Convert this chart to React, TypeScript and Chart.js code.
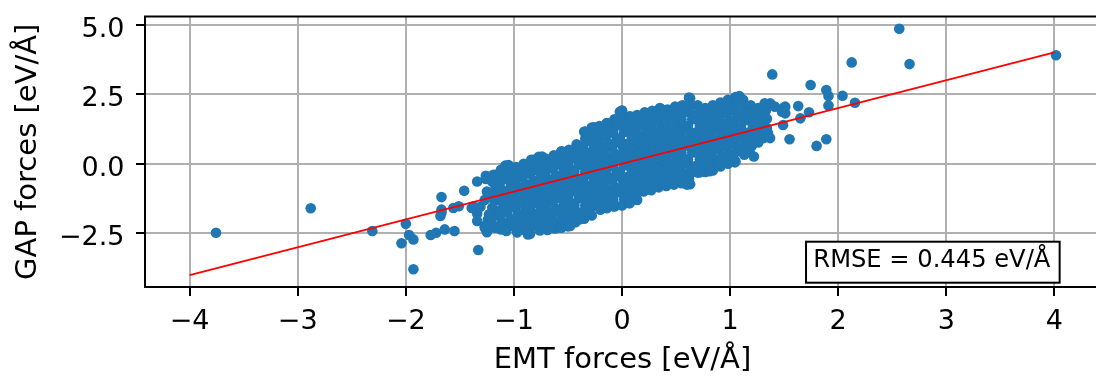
import React, { useEffect, useRef } from "react";
import { Chart, registerables } from "chart.js";

Chart.register(...registerables);

const xTickValues = [-4, -3, -2, -1, 0, 1, 2, 3, 4];
const yTickValues = [-2.5, 0, 2.5, 5];
const fitLineX = [-4, 4];
const fitLineY = [-4, 4];
const rmseLabel = "RMSE = 0.445 eV/Å";
const xTitle = "EMT forces [eV/Å]";
const yTitle = "GAP forces [eV/Å]";

// dense central cloud (EMT, GAP)
const cloudPoints: [number, number][] = [
  [-1.26, -0.55], [-1.25, -1.0], [-1.27, -1.3], [-1.24, -2.0],
  [-1.19, -0.4], [-1.2, -0.65], [-1.17, -0.88], [-1.21, -1.1], [-1.18, -1.35], [-1.2, -1.58], [-1.17, -1.82], [-1.21, -2.05], [-1.18, -2.3],
  [-1.12, -0.22], [-1.1, -0.45], [-1.13, -0.7], [-1.11, -0.95], [-1.14, -1.18], [-1.1, -1.42], [-1.12, -1.66], [-1.13, -1.9], [-1.1, -2.12], [-1.12, -2.36],
  [-1.05, -0.05], [-1.04, -0.3], [-1.06, -0.55], [-1.03, -0.8], [-1.07, -1.02], [-1.05, -1.28], [-1.04, -1.5], [-1.06, -1.75], [-1.03, -1.98], [-1.05, -2.2], [-1.07, -2.42],
  [-0.98, -0.12], [-0.97, -0.38], [-0.99, -0.6], [-0.96, -0.85], [-1.0, -1.08], [-0.97, -1.32], [-0.99, -1.56], [-0.96, -1.8], [-0.98, -2.02], [-1.0, -2.25], [-0.97, -2.46],
  [-0.91, 0.0], [-0.9, -0.25], [-0.92, -0.5], [-0.89, -0.74], [-0.93, -0.98], [-0.9, -1.2], [-0.92, -1.45], [-0.89, -1.68], [-0.91, -1.92], [-0.93, -2.15], [-0.9, -2.38],
  [-0.84, 0.14], [-0.83, -0.12], [-0.85, -0.36], [-0.82, -0.6], [-0.86, -0.85], [-0.84, -1.08], [-0.83, -1.32], [-0.85, -1.55], [-0.82, -1.8], [-0.86, -2.03], [-0.84, -2.26], [-0.85, -2.52],
  [-0.77, 0.25], [-0.76, 0.0], [-0.78, -0.24], [-0.75, -0.48], [-0.79, -0.72], [-0.77, -0.96], [-0.76, -1.2], [-0.78, -1.44], [-0.75, -1.67], [-0.79, -1.9], [-0.77, -2.14], [-0.76, -2.4],
  [-0.7, 0.18], [-0.69, -0.06], [-0.71, -0.3], [-0.68, -0.55], [-0.72, -0.78], [-0.7, -1.02], [-0.69, -1.26], [-0.71, -1.5], [-0.68, -1.73], [-0.72, -1.96], [-0.7, -2.18], [-0.69, -2.38],
  [-0.63, 0.3], [-0.62, 0.06], [-0.64, -0.18], [-0.61, -0.42], [-0.65, -0.66], [-0.63, -0.9], [-0.62, -1.14], [-0.64, -1.38], [-0.61, -1.62], [-0.65, -1.86], [-0.63, -2.1], [-0.62, -2.33],
  [-0.56, 0.45], [-0.55, 0.2], [-0.57, -0.04], [-0.54, -0.28], [-0.58, -0.52], [-0.56, -0.76], [-0.55, -1.0], [-0.57, -1.24], [-0.54, -1.48], [-0.58, -1.72], [-0.56, -1.96], [-0.55, -2.18], [-0.57, -2.3],
  [-0.49, 0.5], [-0.48, 0.26], [-0.5, 0.02], [-0.47, -0.22], [-0.51, -0.46], [-0.49, -0.7], [-0.48, -0.94], [-0.5, -1.18], [-0.47, -1.42], [-0.51, -1.66], [-0.49, -1.9], [-0.48, -2.12], [-0.5, -2.25],
  [-0.42, 0.7], [-0.41, 0.45], [-0.43, 0.2], [-0.4, -0.04], [-0.44, -0.28], [-0.42, -0.52], [-0.41, -0.76], [-0.43, -1.0], [-0.4, -1.24], [-0.44, -1.48], [-0.42, -1.72], [-0.41, -1.94], [-0.43, -2.1],
  [-0.35, 1.15], [-0.34, 0.9], [-0.36, 0.66], [-0.33, 0.42], [-0.37, 0.18], [-0.35, -0.06], [-0.34, -0.3], [-0.36, -0.54], [-0.33, -0.78], [-0.37, -1.02], [-0.35, -1.26], [-0.34, -1.5], [-0.36, -1.74], [-0.35, -1.98],
  [-0.28, 1.3], [-0.27, 1.05], [-0.29, 0.8], [-0.26, 0.56], [-0.3, 0.32], [-0.28, 0.08], [-0.27, -0.16], [-0.29, -0.4], [-0.26, -0.64], [-0.3, -0.88], [-0.28, -1.12], [-0.27, -1.36], [-0.29, -1.6], [-0.28, -1.86],
  [-0.21, 1.35], [-0.2, 1.1], [-0.22, 0.86], [-0.19, 0.62], [-0.23, 0.38], [-0.21, 0.14], [-0.2, -0.1], [-0.22, -0.34], [-0.19, -0.58], [-0.23, -0.82], [-0.21, -1.06], [-0.2, -1.3], [-0.22, -1.52], [-0.2, -1.65],
  [-0.14, 1.45], [-0.13, 1.2], [-0.15, 0.96], [-0.12, 0.72], [-0.16, 0.48], [-0.14, 0.24], [-0.13, 0.0], [-0.15, -0.24], [-0.12, -0.48], [-0.16, -0.72], [-0.14, -0.96], [-0.13, -1.2], [-0.15, -1.42], [-0.14, -1.6],
  [-0.07, 1.6], [-0.06, 1.35], [-0.08, 1.1], [-0.05, 0.86], [-0.09, 0.62], [-0.07, 0.38], [-0.06, 0.14], [-0.08, -0.1], [-0.05, -0.34], [-0.09, -0.58], [-0.07, -0.82], [-0.06, -1.06], [-0.08, -1.3], [-0.07, -1.54],
  [0.0, 1.9], [0.01, 1.62], [-0.01, 1.38], [0.02, 1.14], [-0.02, 0.9], [0.0, 0.66], [0.01, 0.42], [-0.01, 0.18], [0.02, -0.06], [-0.02, -0.3], [0.0, -0.54], [0.01, -0.78], [-0.01, -1.02], [0.02, -1.26], [0.0, -1.5],
  [0.07, 1.7], [0.08, 1.45], [0.06, 1.2], [0.09, 0.96], [0.05, 0.72], [0.07, 0.48], [0.08, 0.24], [0.06, 0.0], [0.09, -0.24], [0.05, -0.48], [0.07, -0.72], [0.08, -0.96], [0.06, -1.2], [0.07, -1.42],
  [0.14, 1.75], [0.15, 1.5], [0.13, 1.26], [0.16, 1.02], [0.12, 0.78], [0.14, 0.54], [0.15, 0.3], [0.13, 0.06], [0.16, -0.18], [0.12, -0.42], [0.14, -0.66], [0.15, -0.9], [0.13, -1.12], [0.14, -1.3],
  [0.21, 1.85], [0.22, 1.6], [0.2, 1.36], [0.23, 1.12], [0.19, 0.88], [0.21, 0.64], [0.22, 0.4], [0.2, 0.16], [0.23, -0.08], [0.19, -0.32], [0.21, -0.56], [0.22, -0.8], [0.2, -1.0],
  [0.28, 1.9], [0.29, 1.65], [0.27, 1.4], [0.3, 1.16], [0.26, 0.92], [0.28, 0.68], [0.29, 0.44], [0.27, 0.2], [0.3, -0.04], [0.26, -0.28], [0.28, -0.52], [0.29, -0.76], [0.27, -0.95],
  [0.35, 2.0], [0.36, 1.75], [0.34, 1.5], [0.37, 1.26], [0.33, 1.02], [0.35, 0.78], [0.36, 0.54], [0.34, 0.3], [0.37, 0.06], [0.33, -0.18], [0.35, -0.42], [0.36, -0.66], [0.34, -0.85],
  [0.42, 1.95], [0.43, 1.7], [0.41, 1.46], [0.44, 1.22], [0.4, 0.98], [0.42, 0.74], [0.43, 0.5], [0.41, 0.26], [0.44, 0.02], [0.4, -0.22], [0.42, -0.46], [0.43, -0.7], [0.41, -0.8],
  [0.49, 2.05], [0.5, 1.8], [0.48, 1.56], [0.51, 1.32], [0.47, 1.08], [0.49, 0.84], [0.5, 0.6], [0.48, 0.36], [0.51, 0.12], [0.47, -0.12], [0.49, -0.36], [0.5, -0.6], [0.48, -0.75],
  [0.56, 2.1], [0.57, 1.85], [0.55, 1.6], [0.58, 1.36], [0.54, 1.12], [0.56, 0.88], [0.57, 0.64], [0.55, 0.4], [0.58, 0.16], [0.54, -0.08], [0.56, -0.32], [0.57, -0.56], [0.55, -0.7],
  [0.63, 2.35], [0.64, 2.1], [0.62, 1.85], [0.65, 1.6], [0.61, 1.36], [0.63, 1.12], [0.64, 0.88], [0.62, 0.64], [0.65, 0.4], [0.61, 0.16], [0.63, -0.08], [0.64, -0.32], [0.62, -0.56], [0.63, -0.74],
  [0.7, 2.1], [0.71, 1.85], [0.69, 1.6], [0.72, 1.36], [0.68, 1.12], [0.7, 0.88], [0.71, 0.64], [0.69, 0.4], [0.72, 0.16], [0.68, -0.08], [0.7, -0.32],
  [0.77, 2.0], [0.78, 1.76], [0.76, 1.52], [0.79, 1.28], [0.75, 1.04], [0.77, 0.8], [0.78, 0.56], [0.76, 0.32], [0.79, 0.08], [0.75, -0.16], [0.77, -0.3],
  [0.84, 2.1], [0.85, 1.85], [0.83, 1.6], [0.86, 1.36], [0.82, 1.12], [0.84, 0.88], [0.85, 0.64], [0.83, 0.4], [0.86, 0.16], [0.82, -0.08], [0.84, -0.24],
  [0.91, 2.2], [0.92, 1.95], [0.9, 1.7], [0.93, 1.46], [0.89, 1.22], [0.91, 0.98], [0.92, 0.74], [0.9, 0.5], [0.93, 0.26], [0.89, 0.02], [0.91, -0.1],
  [0.98, 2.3], [0.99, 2.05], [0.97, 1.8], [1.0, 1.56], [0.96, 1.32], [0.98, 1.08], [0.99, 0.84], [0.97, 0.6], [1.0, 0.36], [0.96, 0.12], [0.98, 0.0],
  [1.05, 2.4], [1.06, 2.15], [1.04, 1.9], [1.07, 1.66], [1.03, 1.42], [1.05, 1.18], [1.06, 0.94], [1.04, 0.7], [1.07, 0.46], [1.03, 0.22], [1.05, 0.08],
  [1.12, 2.3], [1.13, 2.05], [1.11, 1.8], [1.14, 1.56], [1.1, 1.32], [1.12, 1.08], [1.13, 0.84], [1.11, 0.6], [1.14, 0.38],
  [1.19, 2.1], [1.2, 1.85], [1.18, 1.6], [1.21, 1.36], [1.17, 1.12], [1.19, 0.88], [1.2, 0.64], [1.18, 0.42],
  [1.26, 2.0], [1.27, 1.75], [1.25, 1.5], [1.28, 1.26], [1.24, 1.02], [1.26, 0.76],
  [1.33, 1.9], [1.34, 1.62], [1.32, 1.35], [1.35, 1.1], [1.31, 0.92],
];

// scattered points around the cloud (EMT, GAP)
const outlierPoints: [number, number][] = [
  [-3.756, -2.48], [-2.88, -1.6], [-2.31, -2.42], [-2.0, -2.16], [-2.04, -2.86], [-1.97, -2.56], [-1.93, -2.72], [-1.93, -3.79],
  [-1.77, -2.56], [-1.72, -2.48], [-1.64, -2.36], [-1.55, -2.42], [-1.68, -1.88], [-1.67, -1.65], [-1.67, -1.2], [-1.67, -1.76],
  [-1.56, -1.59], [-1.51, -1.53], [-1.46, -0.97], [-1.34, -0.64], [-1.33, -3.1], [-1.375, -1.53], [-1.34, -1.79], [-1.34, -2.06],
  [-1.27, -2.24], [-1.25, -2.46], [-1.23, -1.82], [-1.15, -2.3], [-1.14, -2.24], [-1.26, -0.43], [-1.16, -0.39], [-1.08, -0.07],
  [-1.39, -1.59], [-1.31, -1.55], [-1.27, -2.3],
  [-0.97, -2.46], [-0.87, -2.54], [-0.82, 0.14], [-0.74, 0.26], [-0.56, 0.44], [-0.34, 1.16], [-0.26, 1.31], [-0.13, 1.43], [-0.02, 1.87],
  [-0.56, -2.3], [-0.48, -2.24], [-0.39, -2.0], [0.07, -1.41], [-0.08, -1.53], [-0.2, -1.59], [0.23, -0.93], [0.38, -0.75],
  [2.565, 4.85], [2.66, 3.58], [2.125, 3.64], [4.015, 3.9], [1.39, 3.21], [1.745, 2.83], [1.89, 2.65], [1.91, 2.43], [2.04, 2.44],
  [2.155, 2.19], [1.91, 2.09], [1.63, 2.07], [1.73, 1.85], [1.65, 1.63], [1.89, 0.88], [1.8, 0.64], [1.55, 0.88], [1.49, 1.39],
  [1.51, 2.05], [1.415, 2.05], [1.32, 2.11], [1.37, 0.92], [1.22, 0.26], [1.13, 0.32], [1.045, 0.05], [0.81, -0.27], [0.72, -0.31],
  [0.6, -0.75], [0.57, -0.67], [1.085, 2.43], [1.06, 2.29], [0.62, 2.38], [0.54, 2.05], [0.36, 1.97], [0.09, 1.69], [0.0, 1.91],
  [-0.14, 1.46], [1.5, 2.03], [1.51, 1.81], [1.32, 2.17], [1.37, 2.17], [1.21, 1.87], [1.23, 1.63], [1.34, 1.04], [1.28, 1.57],
  [1.34, 1.28], [1.48, 1.87],
];

const FONT = '"DejaVu Sans", "Liberation Sans", sans-serif';
const fmt = (v: number, digits: number) => {
  const s = Math.abs(v).toFixed(digits);
  return v < 0 ? "\u2212" + s : s;
};

const framePlugin = {
  id: "framePlugin",
  afterDraw(chart: any) {
    const { ctx, chartArea: a } = chart;
    ctx.save();
    ctx.strokeStyle = "#000";
    ctx.lineWidth = 2;
    ctx.beginPath();
    ctx.moveTo(a.left - 1, a.top);
    ctx.lineTo(a.right, a.top);
    ctx.stroke();

    ctx.font = `24.2px ${FONT}`;
    const w = ctx.measureText(rmseLabel).width;
    const right = a.left + 0.948 * (a.right - a.left);
    const baseline = a.bottom - 0.075 * (a.bottom - a.top);
    const pad = 7.3;
    const bx = right - w - pad;
    const by = baseline - 25;
    const bw = w + 2 * pad + 2;
    const bh = 41;
    ctx.fillStyle = "#fff";
    ctx.fillRect(bx, by, bw, bh);
    ctx.lineWidth = 2;
    ctx.strokeStyle = "#000";
    ctx.strokeRect(bx, by, bw, bh);
    ctx.fillStyle = "#000";
    ctx.textBaseline = "alphabetic";
    ctx.textAlign = "left";
    ctx.fillText(rmseLabel, right - w, baseline);
    ctx.restore();
  },
};

export default function App() {
  const ref = useRef<HTMLCanvasElement | null>(null);

  useEffect(() => {
    if (!ref.current) return;
    const scatterData = [...cloudPoints, ...outlierPoints].map(([x, y]) => ({ x, y }));
    const lineData = fitLineX.map((x, i) => ({ x, y: fitLineY[i] }));

    const chart = new Chart(ref.current, {
      type: "scatter",
      data: {
        datasets: [
          {
            data: lineData,
            showLine: true,
            borderColor: "#ff0000",
            borderWidth: 1.8,
            pointRadius: 0,
            order: 0,
          } as any,
          {
            data: scatterData,
            backgroundColor: "#1f77b4",
            borderWidth: 0,
            pointRadius: 5.3,
            order: 1,
          } as any,
        ],
      },
      options: {
        animation: false,
        responsive: false,
        devicePixelRatio: 1,
        events: [],
        layout: { padding: { top: 16.5, right: 10, bottom: 0, left: 0 } },
        plugins: {
          legend: { display: false },
          tooltip: { enabled: false },
        },
        scales: {
          x: {
            type: "linear",
            min: -4.413,
            max: 4.422,
            afterBuildTicks: (axis: any) => {
              axis.ticks = xTickValues.map((v) => ({ value: v }));
            },
            afterFit: (axis: any) => {
              axis.height = 96;
              axis.paddingLeft = 0;
              axis.paddingRight = 0;
            },
            ticks: {
              color: "#000",
              font: { family: FONT, size: 27 },
              padding: 9.5,
              maxRotation: 0,
              autoSkip: false,
              callback: (v: any) => fmt(Number(v), 0),
            },
            grid: {
              color: "#b0b0b0",
              lineWidth: 2,
              tickColor: "#000",
              tickWidth: 2,
              tickLength: 9,
            },
            border: { display: true, color: "#000", width: 2 },
            title: {
              display: true,
              text: xTitle,
              color: "#000",
              font: { family: FONT, size: 29 },
              padding: { top: 0, bottom: 5 },
            },
          },
          y: {
            type: "linear",
            min: -4.43,
            max: 5.29,
            afterBuildTicks: (axis: any) => {
              axis.ticks = yTickValues.map((v) => ({ value: v }));
            },
            afterFit: (axis: any) => {
              axis.width = 145;
              axis.paddingTop = 0;
              axis.paddingBottom = 0;
            },
            ticks: {
              color: "#000",
              font: { family: FONT, size: 27 },
              padding: 11.5,
              labelOffset: 5,
              autoSkip: false,
              callback: (v: any) => fmt(Number(v), 1),
            },
            grid: {
              color: "#b0b0b0",
              lineWidth: 2,
              tickColor: "#000",
              tickWidth: 2,
              tickLength: 9,
            },
            border: { display: true, color: "#000", width: 2 },
            title: {
              display: true,
              text: yTitle,
              color: "#000",
              font: { family: FONT, size: 29 },
              padding: { top: 10.6, bottom: 0 },
            },
          },
        },
      },
      plugins: [framePlugin],
    });
    return () => chart.destroy();
  }, []);

  return (
    <div
      style={{
        position: "fixed",
        left: 0,
        top: 0,
        width: 1096,
        height: 383,
        overflow: "hidden",
        background: "#fff",
      }}
    >
      <canvas ref={ref} width={1110} height={383} style={{ width: 1110, height: 383, display: "block" }} />
    </div>
  );
}
